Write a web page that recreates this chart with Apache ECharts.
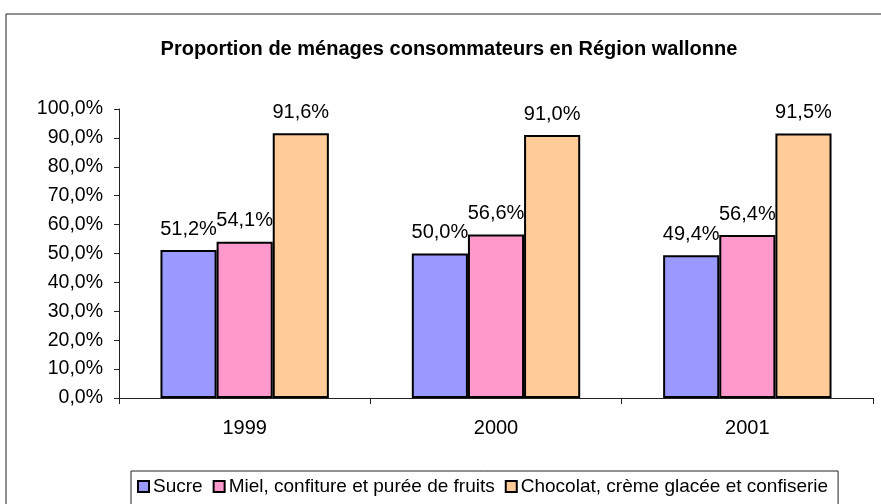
<!DOCTYPE html>
<html>
<head>
<meta charset="utf-8">
<script src="https://cdn.jsdelivr.net/npm/echarts@6/dist/echarts.min.js"></script>
<style>
  html, body { margin: 0; padding: 0; background: #fff; }
  #chart { width: 881px; height: 504px; }
</style>
</head>
<body>
<div id="chart"></div>
<script>
const years = ['1999', '2000', '2001'];
const sucre = [51.2, 50.0, 49.4];
const miel = [54.1, 56.6, 56.4];
const chocolat = [91.6, 91.0, 91.5];
const seriesNames = ['Sucre', 'Miel, confiture et purée de fruits', 'Chocolat, crème glacée et confiserie'];
const colors = ['#9999ff', '#ff99cc', '#ffcc99'];

const font = 'Liberation Sans, Arial, sans-serif';
const pct = (v) => v.toFixed(1).replace('.', ',') + '%';

const chart = echarts.init(document.getElementById('chart'), null, { renderer: 'canvas' });

function bar(name, data, color) {
  return {
    name: name,
    type: 'bar',
    data: data,
    barGap: '0%',
    barCategoryGap: '33%',
    itemStyle: { color: color, borderColor: '#000', borderWidth: 2 },
    label: {
      show: true,
      position: 'top',
      distance: 11,
      color: '#000',
      fontFamily: font,
      fontSize: 20,
      formatter: (p) => pct(p.value)
    }
  };
}

chart.setOption({
  animation: false,
  graphic: [{
    type: 'rect',
    shape: { x: 6, y: 14, width: 900, height: 520 },
    style: { fill: 'none', stroke: '#222', lineWidth: 1 },
    silent: true,
    z: 0
  }],
  title: {
    text: 'Proportion de ménages consommateurs en Région wallonne',
    left: 444,
    textAlign: 'center',
    top: 34,
    textStyle: { fontFamily: font, fontSize: 20, fontWeight: 'bold', color: '#000' }
  },
  legend: {
    left: 131,
    top: 471,
    itemWidth: 11,
    itemHeight: 11,
    itemGap: 10,
    padding: [6, 10, 14, 6],
    borderColor: '#222',
    borderWidth: 1,
    icon: 'rect',
    textStyle: { fontFamily: font, fontSize: 19, color: '#000', padding: [0, 0, 0, -1] },
    data: seriesNames.map((n, i) => ({ name: n, itemStyle: { color: colors[i], borderColor: '#000', borderWidth: 2 } }))
  },
  grid: { left: 119, right: 8, top: 109, bottom: 106, containLabel: false },
  xAxis: {
    type: 'category',
    data: years,
    axisLine: { lineStyle: { color: '#222', width: 1 } },
    axisTick: { show: true, length: 6, lineStyle: { color: '#222' } },
    axisLabel: { color: '#000', fontFamily: font, fontSize: 20, margin: 20 }
  },
  yAxis: {
    type: 'value',
    min: 0,
    max: 100,
    interval: 10,
    axisLine: { show: true, lineStyle: { color: '#222', width: 1 } },
    axisTick: { show: true, length: 5, lineStyle: { color: '#222' } },
    splitLine: { show: false },
    axisLabel: { color: '#000', fontFamily: font, fontSize: 19.5, margin: 16, formatter: (v) => pct(v) }
  },
  series: [
    bar(seriesNames[0], sucre, colors[0]),
    bar(seriesNames[1], miel, colors[1]),
    bar(seriesNames[2], chocolat, colors[2])
  ]
});
</script>
</body>
</html>
